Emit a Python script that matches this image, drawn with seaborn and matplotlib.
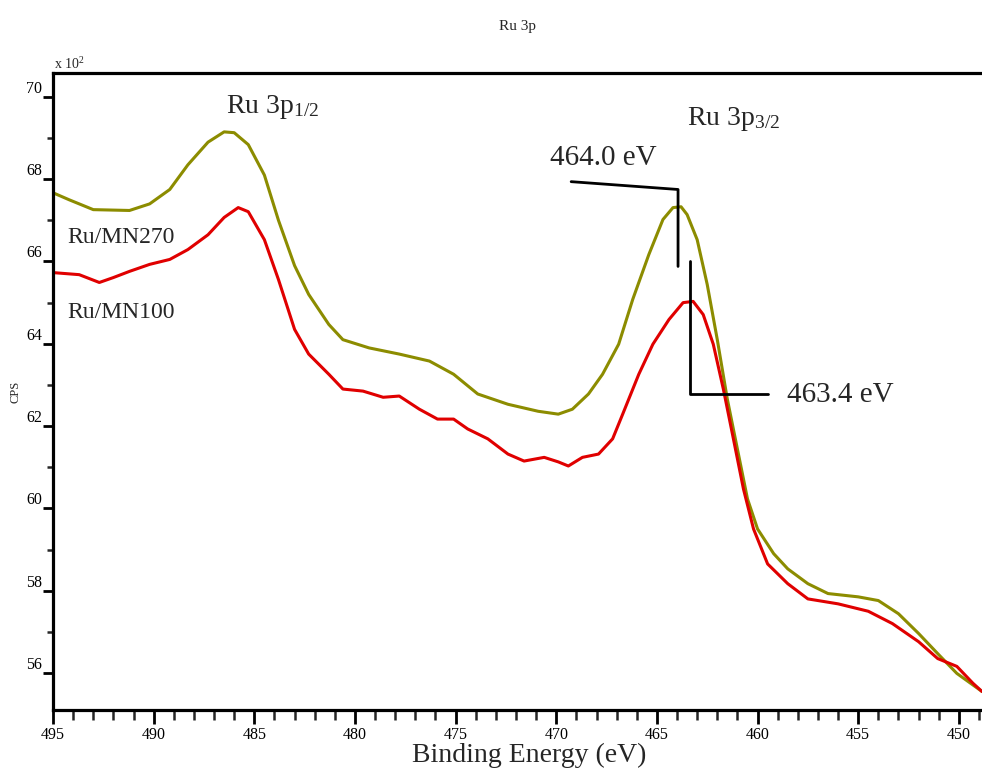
import numpy as np
import pandas as pd
import matplotlib
matplotlib.use("Agg")
import matplotlib.pyplot as plt
from matplotlib.ticker import MultipleLocator
import seaborn as sns

# binding energy (eV) and counts (x 10^2 CPS)
be_270 = [495.0, 494.2, 493.0, 491.2, 490.2, 489.2, 488.3, 487.3, 486.5, 486.0,
          485.3, 484.5, 483.8, 483.0, 482.3, 481.3, 480.6, 479.3, 477.8, 476.3,
          475.1, 473.9, 472.4, 470.9, 469.9, 469.2, 468.4, 467.7, 466.9, 466.2,
          465.4, 464.7, 464.2, 463.8, 463.5, 463.0, 462.5, 462.0, 461.5, 461.0,
          460.5, 460.0, 459.2, 458.5, 457.5, 456.5, 455.0, 454.0, 453.0, 452.0,
          451.05, 450.1, 448.85]
cps_270 = [67.67, 67.50, 67.26, 67.24, 67.40, 67.75, 68.35, 68.90, 69.15, 69.13,
           68.84, 68.10, 67.00, 65.90, 65.20, 64.47, 64.10, 63.90, 63.75, 63.58,
           63.26, 62.78, 62.53, 62.36, 62.29, 62.41, 62.78, 63.26, 63.99, 65.08,
           66.17, 67.02, 67.31, 67.33, 67.14, 66.53, 65.44, 64.10, 62.65, 61.44,
           60.23, 59.50, 58.90, 58.53, 58.17, 57.93, 57.85, 57.76, 57.44, 56.96,
           56.47, 55.99, 55.55]

be_100 = [495.0, 493.7, 492.7, 492.0, 491.2, 490.2, 489.2, 488.3, 487.3, 486.5,
          485.8, 485.3, 484.5, 483.8, 483.0, 482.3, 481.3, 480.6, 479.6, 478.6,
          477.8, 476.8, 475.9, 475.1, 474.4, 473.4, 472.4, 471.6, 470.6, 469.9,
          469.4, 468.7, 467.9, 467.2, 466.7, 465.9, 465.2, 464.4, 463.7, 463.2,
          462.7, 462.2, 461.7, 461.2, 460.7, 460.2, 459.5, 458.5, 457.5, 456.0,
          454.5, 453.3, 452.0, 451.05, 450.1, 449.3, 448.85]
cps_100 = [65.73, 65.68, 65.49, 65.61, 65.76, 65.93, 66.05, 66.29, 66.65, 67.07,
           67.31, 67.21, 66.53, 65.56, 64.35, 63.75, 63.26, 62.90, 62.85, 62.70,
           62.73, 62.41, 62.17, 62.17, 61.93, 61.69, 61.32, 61.15, 61.24, 61.13,
           61.03, 61.24, 61.32, 61.69, 62.29, 63.26, 63.99, 64.59, 65.00, 65.03,
           64.71, 63.99, 62.90, 61.69, 60.47, 59.50, 58.65, 58.17, 57.80, 57.68,
           57.50, 57.20, 56.76, 56.35, 56.16, 55.75, 55.55]

# peak marker lines (eV, x 10^2 CPS)
mark_464_x = [469.26, 463.95, 463.95]
mark_464_y = [67.94, 67.75, 65.88]
mark_463_x = [463.35, 463.35, 459.5]
mark_463_y = [66.0, 62.78, 62.78]

df = pd.concat([
    pd.DataFrame({"be": be_270, "cps": cps_270, "sample": "Ru/MN270"}),
    pd.DataFrame({"be": be_100, "cps": cps_100, "sample": "Ru/MN100"}),
])

sns.set_style("white")
plt.rcParams["font.family"] = ["Liberation Serif", "DejaVu Serif"]
plt.rcParams["mathtext.fontset"] = "custom"
plt.rcParams["mathtext.rm"] = "Liberation Serif"
plt.rcParams["mathtext.it"] = "Liberation Serif"

fig = plt.figure(figsize=(9.82, 7.72), dpi=100)
ax = fig.add_axes([0.054, 0.0803, 0.946, 0.8251])

sns.lineplot(data=df, x="be", y="cps", hue="sample",
             palette={"Ru/MN270": "#8c8c00", "Ru/MN100": "#e00000"},
             linewidth=2.2, legend=False, sort=False, ax=ax)

ax.plot(mark_464_x, mark_464_y, color="black", lw=2.0)
ax.plot(mark_463_x, mark_463_y, color="black", lw=2.0)

ax.set_xlim(495, 448.85)
ax.set_ylim(55.10, 70.58)

ax.xaxis.set_minor_locator(MultipleLocator(1))
ax.yaxis.set_major_locator(MultipleLocator(2))
ax.yaxis.set_minor_locator(MultipleLocator(1))
ax.set_xticks(np.arange(495, 449, -5))
ax.set_xticklabels([str(v) for v in range(495, 449, -5)])

for side in ["left", "top", "bottom"]:
    ax.spines[side].set_linewidth(2.3)
    ax.spines[side].set_color("black")
ax.spines["right"].set_visible(False)

ax.tick_params(axis="both", which="major", direction="out", width=2.0, labelsize=11.5,
               colors="black")
ax.tick_params(axis="x", which="major", length=10, pad=2)
ax.tick_params(axis="x", which="minor", direction="out", length=7, width=1.8)
ax.tick_params(axis="y", which="major", length=7, pad=1)
ax.tick_params(axis="y", which="minor", direction="out", length=4.5, width=1.8)
ax.tick_params(axis="both", which="both", bottom=True, left=True, top=False, right=False)
for lab in ax.get_yticklabels():
    lab.set_verticalalignment("bottom")

ax.set_xlabel("Binding Energy (eV)", fontsize=20)
ax.xaxis.set_label_coords(0.513, -0.052)
ax.xaxis.label.set_verticalalignment("top")
ax.set_ylabel("CPS", fontsize=9, labelpad=3)
ax.set_title("Ru 3p", fontsize=11, pad=31)
ax.text(0.001, 1.006, r"x 10$^2$", transform=ax.transAxes, fontsize=10,
        ha="left", va="baseline")

ax.text(486.4, 69.61, r"Ru 3p$_{1/2}$", fontsize=20, ha="left", va="baseline")
ax.text(463.5, 69.32, r"Ru 3p$_{3/2}$", fontsize=20, ha="left", va="baseline")
ax.text(470.32, 68.35, "464.0 eV", fontsize=21, ha="left", va="baseline")
ax.text(458.53, 62.59, "463.4 eV", fontsize=21, ha="left", va="baseline")
ax.text(494.3, 66.45, "Ru/MN270", fontsize=17, ha="left", va="baseline")
ax.text(494.3, 64.63, "Ru/MN100", fontsize=17, ha="left", va="baseline")

fig.savefig("out.png", dpi=100)
